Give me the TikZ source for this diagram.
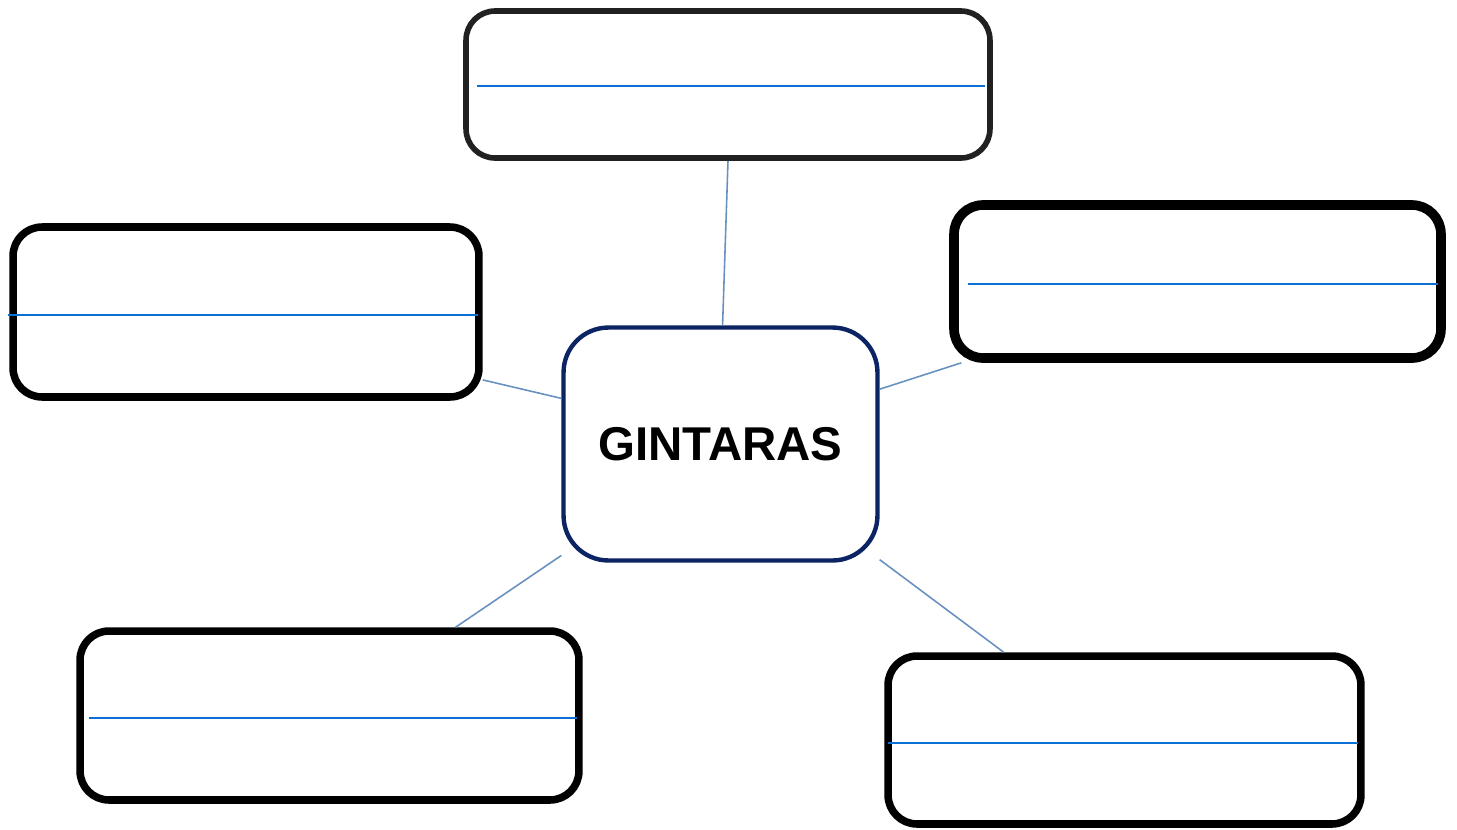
\documentclass[tikz,border=0pt]{standalone}
\usepackage{fontspec}
\setmainfont{Liberation Sans}
\definecolor{navy}{RGB}{12,36,100}
\definecolor{linkblue}{RGB}{105,145,192}
\definecolor{lineblue}{RGB}{10,112,214}
\tikzset{
  box/.style={draw=black,rounded corners=0.58cm,line width=4.3pt,inner sep=0pt},
  link/.style={draw=linkblue,line width=0.9pt},
  wline/.style={draw=lineblue,line width=1.1pt}
}
\begin{document}
\begin{tikzpicture}[x=0.02cm,y=-0.02cm]
  \useasboundingbox (0,0) rectangle (1457,829);
  \draw
    (720.5,444) node[box,draw=navy,line width=2.5pt,rounded corners=0.9cm,minimum width=6.28cm,minimum height=4.66cm,font=\bfseries\fontsize{27}{30}\selectfont] (g){GINTARAS}
    (728,84.5) node[box,draw=black!87,line width=3.2pt,minimum width=10.48cm,minimum height=2.94cm] (n1){}
    (246,312) node[box,minimum width=9.32cm,minimum height=3.40cm] (n2){}
    (1197.5,281.5) node[box,line width=5.5pt,minimum width=9.74cm,minimum height=3.06cm] (n3){}
    (329.5,715.5) node[box,minimum width=9.98cm,minimum height=3.38cm] (n4){}
    (1124.5,740) node[box,minimum width=9.46cm,minimum height=3.36cm] (n5){};
  \begin{scope}[link]
    \draw (n1.south) to (g.89);
    \draw (n2.-16) to (g.164);
    \draw (n3.199) to (g.19);
    \draw (n4.35) to (g.215);
    \draw (n5.144) to (g.-36);
  \end{scope}
  \begin{scope}[wline]
    \draw (477,86) -- (985,86);
    \draw (8,315) -- (478,315);
    \draw (968,284) -- (1438,284);
    \draw (89,718) -- (577,718);
    \draw (888,743) -- (1358,743);
  \end{scope}
\end{tikzpicture}
\end{document}
